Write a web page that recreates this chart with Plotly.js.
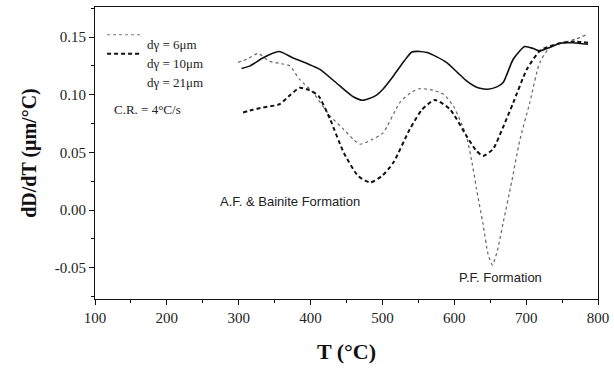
<!DOCTYPE html>
<html>
<head>
<meta charset="utf-8">
<script src="https://cdn.plot.ly/plotly-3.0.1.min.js"></script>
<style>html,body{margin:0;padding:0;background:#fff;}#chart{width:614px;height:369px;}</style>
</head>
<body>
<div id="chart"></div>
<script>
// 6 µm (dotted)
const t6 = [299, 312, 327, 343, 358, 371, 385, 402, 427, 446, 460, 469, 485, 501, 524, 540, 552, 570, 585, 599, 610, 617, 625, 631, 640, 647, 653, 660, 668, 680, 691, 705, 719, 733, 750, 768, 784];
const v6 = [0.128, 0.131, 0.1357, 0.129, 0.127, 0.125, 0.113, 0.103, 0.0817, 0.070, 0.061, 0.0571, 0.061, 0.067, 0.093, 0.102, 0.1053, 0.104, 0.1004, 0.090, 0.075, 0.064, 0.040, 0.018, -0.012, -0.038, -0.0476, -0.035, -0.011, 0.025, 0.060, 0.093, 0.128, 0.141, 0.145, 0.148, 0.152];
// 10 µm (dashed)
const t10 = [306, 320, 334, 357, 372, 385, 398, 411, 427, 446, 466, 483, 500, 515, 538, 555, 573, 594, 617, 630, 640, 654, 668, 682, 701, 719, 733, 750, 768, 786];
const v10 = [0.0846, 0.087, 0.0889, 0.0918, 0.100, 0.106, 0.104, 0.099, 0.079, 0.050, 0.0297, 0.024, 0.030, 0.041, 0.070, 0.087, 0.0955, 0.0874, 0.0643, 0.052, 0.047, 0.053, 0.072, 0.093, 0.122, 0.138, 0.142, 0.145, 0.146, 0.145];
// 21 µm (solid)
const t21 = [304, 316, 334, 356, 375, 395, 413, 440, 460, 473, 490, 501, 515, 530, 541, 552, 562, 575, 589, 605, 617, 633, 647, 660, 668, 682, 698, 710, 719, 733, 747, 765, 786];
const v21 = [0.1227, 0.125, 0.132, 0.1374, 0.132, 0.127, 0.122, 0.108, 0.098, 0.0952, 0.099, 0.105, 0.116, 0.129, 0.137, 0.1375, 0.1365, 0.133, 0.128, 0.119, 0.112, 0.106, 0.1048, 0.107, 0.1105, 0.1307, 0.1417, 0.140, 0.138, 0.141, 0.1446, 0.145, 0.1437];

const yTickVals = [-0.05, 0.00, 0.05, 0.10, 0.15];
const yTickText = ["-0.05", "0.00", "0.05", "0.10", "0.15"];
const legendLabels = ["dγ = 6μm", "dγ = 10μm", "dγ = 21μm"];
const rateLabel = "C.R. = 4°C/s";
const xTitle = "T (°C)";
const yTitle = "dD/dT (μm/°C)";
const note1 = "A.F. & Bainite Formation";
const note2 = "P.F. Formation";

const serif = "Liberation Serif, Times New Roman, serif";
const sans = "Liberation Sans, Arial, sans-serif";

const traces = [
  {x: t6, y: v6, mode: "lines", line: {color: "#666", width: 1.2, dash: "dot", shape: "spline", smoothing: 0.6}},
  {x: t10, y: v10, mode: "lines", line: {color: "#111", width: 2, dash: "4px,3px", shape: "spline", smoothing: 0.6}},
  {x: t21, y: v21, mode: "lines", line: {color: "#111", width: 1.6, shape: "spline", smoothing: 0.6}}
];

const axisCommon = {
  showgrid: false, zeroline: false, showline: true, mirror: true,
  linecolor: "#111", linewidth: 1, ticks: "outside", ticklen: 5, tickwidth: 1, tickcolor: "#111",
  tickfont: {family: serif, size: 15, color: "#222"}
};

const layout = {
  width: 614, height: 369,
  margin: {l: 95, r: 16, t: 7, b: 70},
  paper_bgcolor: "#fff", plot_bgcolor: "#fff",
  showlegend: false,
  xaxis: Object.assign({}, axisCommon, {
    range: [100, 800], dtick: 100, tick0: 100,
    minor: {dtick: 50, ticklen: 3, ticks: "outside", tickcolor: "#111"},
    title: {text: xTitle, font: {family: serif, size: 22, color: "#111", weight: "bold"}, standoff: 18}
  }),
  yaxis: Object.assign({}, axisCommon, {
    range: [-0.077, 0.176], tickmode: "array", tickvals: yTickVals, ticktext: yTickText,
    minor: {dtick: 0.025, tick0: 0, ticklen: 3, ticks: "outside", tickcolor: "#111"},
    title: {text: yTitle, font: {family: serif, size: 20, color: "#111", weight: "bold"}, standoff: 12}
  }),
  annotations: [
    {xref: "x", yref: "y", x: 372, y: 0.0078, text: note1, showarrow: false, font: {family: sans, size: 13, color: "#222"}},
    {xref: "x", yref: "y", x: 664, y: -0.058, text: note2, showarrow: false, font: {family: sans, size: 13, color: "#222"}},
    {xref: "paper", yref: "paper", x: 0.099, y: 0.905, xanchor: "left", text: legendLabels[0], showarrow: false, font: {family: serif, size: 13, color: "#222"}},
    {xref: "paper", yref: "paper", x: 0.099, y: 0.84, xanchor: "left", text: legendLabels[1], showarrow: false, font: {family: serif, size: 13, color: "#222"}},
    {xref: "paper", yref: "paper", x: 0.099, y: 0.775, xanchor: "left", text: legendLabels[2], showarrow: false, font: {family: serif, size: 13, color: "#222"}},
    {xref: "paper", yref: "paper", x: 0.034, y: 0.68, xanchor: "left", text: rateLabel, showarrow: false, font: {family: serif, size: 13, color: "#222"}}
  ],
  shapes: [
    {type: "line", xref: "paper", yref: "paper", x0: 0.024, x1: 0.093, y0: 0.905, y1: 0.905, line: {color: "#777", width: 1, dash: "dot"}},
    {type: "line", xref: "paper", yref: "paper", x0: 0.024, x1: 0.093, y0: 0.84, y1: 0.84, line: {color: "#111", width: 2, dash: "4px,3px"}}
  ]
};

Plotly.newPlot("chart", traces, layout, {displayModeBar: false, staticPlot: true});
</script>
</body>
</html>
